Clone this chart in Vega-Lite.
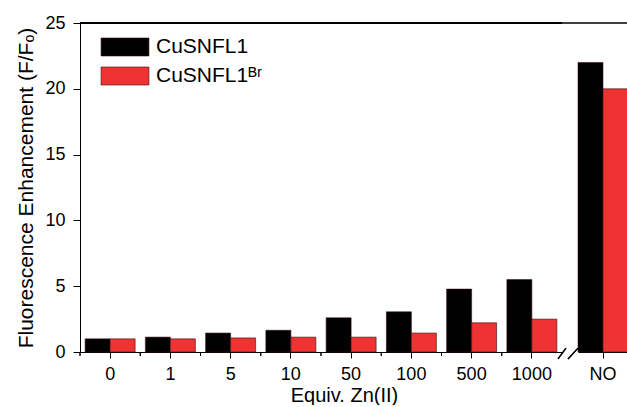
{
  "$schema": "https://vega.github.io/schema/vega-lite/v6.json",
  "padding": {"left": 15, "top": 14, "right": 0, "bottom": 0},
  "bounds": "flush",
  "config": {
    "font": "Liberation Sans",
    "view": {"stroke": null},
    "axis": {
      "domainColor": "#000",
      "tickColor": "#000",
      "labelColor": "#000",
      "titleColor": "#000",
      "labelFontSize": 18,
      "titleFontSize": 21,
      "titleFontWeight": "normal",
      "grid": false
    }
  },
  "data": {
    "values": [
      {"equiv": "0", "series": "CuSNFL1", "value": 1.0},
      {"equiv": "0", "series": "CuSNFL1ᴮʳ", "value": 1.0},
      {"equiv": "1", "series": "CuSNFL1", "value": 1.13},
      {"equiv": "1", "series": "CuSNFL1ᴮʳ", "value": 1.0},
      {"equiv": "5", "series": "CuSNFL1", "value": 1.44},
      {"equiv": "5", "series": "CuSNFL1ᴮʳ", "value": 1.07},
      {"equiv": "10", "series": "CuSNFL1", "value": 1.65},
      {"equiv": "10", "series": "CuSNFL1ᴮʳ", "value": 1.13},
      {"equiv": "50", "series": "CuSNFL1", "value": 2.6},
      {"equiv": "50", "series": "CuSNFL1ᴮʳ", "value": 1.13},
      {"equiv": "100", "series": "CuSNFL1", "value": 3.05},
      {"equiv": "100", "series": "CuSNFL1ᴮʳ", "value": 1.44},
      {"equiv": "500", "series": "CuSNFL1", "value": 4.78},
      {"equiv": "500", "series": "CuSNFL1ᴮʳ", "value": 2.22},
      {"equiv": "1000", "series": "CuSNFL1", "value": 5.5},
      {"equiv": "1000", "series": "CuSNFL1ᴮʳ", "value": 2.5},
      {"equiv": "NO", "series": "CuSNFL1", "value": 22.0},
      {"equiv": "NO", "series": "CuSNFL1ᴮʳ", "value": 20.0}
    ]
  },
  "spacing": 0,
  "resolve": {
    "scale": {"x": "independent", "xOffset": "independent", "y": "shared", "color": "independent"},
    "legend": {"color": "independent"}
  },
  "hconcat": [
    {
      "width": 482,
      "height": 329,
      "transform": [{"filter": "datum.equiv !== 'NO'"}],
      "layer": [
        {
          "mark": {"type": "bar", "stroke": "#3a1010", "strokeWidth": 0.6},
          "encoding": {
            "x": {
              "field": "equiv",
              "type": "nominal",
              "scale": {"domain": ["0", "1", "5", "10", "50", "100", "500", "1000"], "paddingInner": 0, "paddingOuter": 0},
              "axis": {
                "title": "Equiv. Zn(II)",
                "titleX": 264,
                "titleFontSize": 20,
                "labelAngle": 0,
                "tickSize": 6,
                "bandPosition": 0.5,
                "labelPadding": 7,
                "titlePadding": 2
              }
            },
            "xOffset": {
              "field": "series",
              "type": "nominal",
              "scale": {"domain": ["CuSNFL1", "CuSNFL1ᴮʳ"], "paddingInner": 0, "paddingOuter": 0.205}
            },
            "y": {
              "field": "value",
              "type": "quantitative",
              "scale": {"domain": [0, 25], "nice": false},
              "axis": {
                "title": "Fluorescence Enhancement (F/Fₒ)",
                "values": [0, 2.5, 5, 7.5, 10, 12.5, 15, 17.5, 20, 22.5, 25],
                "labelExpr": "datum.value % 5 === 0 ? datum.label : ''",
                "tickSize": {"condition": {"test": "datum.value % 5 === 0", "value": 7}, "value": 4},
                "labelPadding": 8,
                "titlePadding": 8
              }
            },
            "color": {
              "field": "series",
              "type": "nominal",
              "scale": {"domain": ["CuSNFL1", "CuSNFL1ᴮʳ"], "range": ["#000000", "#ef3232"]},
              "legend": {
                "title": null,
                "orient": "none",
                "legendX": 26.5,
                "legendY": 5.5,
                "symbolType": "M-1.33,-0.5H1.33V0.5H-1.33Z",
                "symbolSize": 1296,
                "symbolStrokeColor": "#3a1010",
                "symbolStrokeWidth": 0.6,
                "symbolOpacity": 1,
                "labelFontSize": 21,
                "labelColor": "#000",
                "labelOffset": 12.5,
                "rowPadding": -9,
                "padding": 0
              }
            }
          }
        },
        {
          "mark": {"type": "rule", "color": "#000", "strokeWidth": 1},
          "encoding": {
            "x": {"field": "equiv", "type": "nominal", "bandPosition": 0},
            "y": {"datum": 0},
            "y2": {"datum": -0.3}
          }
        },
        {
          "mark": {"type": "rule", "color": "#000", "strokeWidth": 1},
          "encoding": {"y": {"datum": 25}}
        }
      ]
    },
    {
      "width": 66,
      "height": 329,
      "transform": [{"filter": "datum.equiv === 'NO'"}],
      "layer": [
        {
          "mark": {"type": "bar", "stroke": "#3a1010", "strokeWidth": 0.6},
          "encoding": {
            "x": {
              "field": "equiv",
              "type": "nominal",
              "scale": {"domain": ["NO"], "range": [16, 66], "paddingInner": 0, "paddingOuter": 0},
              "axis": {"title": null, "labelAngle": 0, "tickSize": 6, "bandPosition": 0.5, "labelPadding": 7}
            },
            "xOffset": {
              "field": "series",
              "type": "nominal",
              "scale": {"domain": ["CuSNFL1", "CuSNFL1ᴮʳ"], "paddingInner": 0, "paddingOuter": 0}
            },
            "y": {
              "field": "value",
              "type": "quantitative",
              "scale": {"domain": [0, 25], "nice": false},
              "axis": null
            },
            "color": {
              "field": "series",
              "type": "nominal",
              "scale": {"domain": ["CuSNFL1", "CuSNFL1ᴮʳ"], "range": ["#000000", "#ef3232"]},
              "legend": null
            }
          }
        },
        {
          "mark": {"type": "rule", "color": "#000", "strokeWidth": 1},
          "encoding": {"y": {"datum": 25}}
        },
        {
          "mark": {"type": "rule", "color": "#000", "strokeWidth": 1.2},
          "encoding": {
            "x": {"datum": "NO", "type": "nominal", "bandPosition": -0.4},
            "x2": {"datum": "NO", "bandPosition": -0.24},
            "y": {"datum": -0.53},
            "y2": {"datum": 0.3}
          }
        },
        {
          "mark": {"type": "rule", "color": "#000", "strokeWidth": 1.2},
          "encoding": {
            "x": {"datum": "NO", "type": "nominal", "bandPosition": -0.2},
            "x2": {"datum": "NO", "bandPosition": 0},
            "y": {"datum": -0.53},
            "y2": {"datum": 0.3}
          }
        }
      ]
    }
  ]
}
